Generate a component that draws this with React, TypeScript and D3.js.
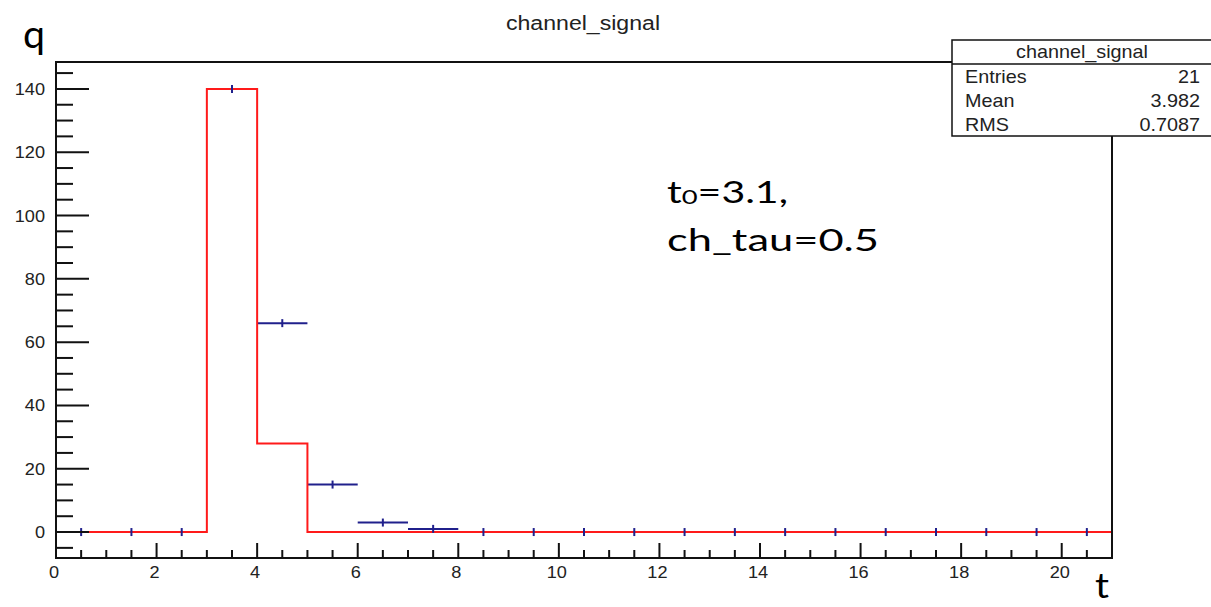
import React from "react";
import * as d3 from "d3";

// bin lower edges (bin width 1)
const binLow = [0, 1, 2, 3, 4, 5, 6, 7, 8, 9, 10, 11, 12, 13, 14, 15, 16, 17, 18, 19, 20];
// red step histogram
const redCounts = [0, 0, 0, 140, 28, 0, 0, 0, 0, 0, 0, 0, 0, 0, 0, 0, 0, 0, 0, 0, 0];
// blue points with horizontal bin-width bars
const blueCounts = [0, 0, 0, 140, 66, 15, 3, 1, 0, 0, 0, 0, 0, 0, 0, 0, 0, 0, 0, 0, 0];

const xTickLabels = [0, 2, 4, 6, 8, 10, 12, 14, 16, 18, 20];
const yTickLabels = [0, 20, 40, 60, 80, 100, 120, 140];

const statLabels = ["Entries", "Mean", "RMS"];
const statValues = ["21", "3.982", "0.7087"];

const W = 1211;
const H = 607;
const frame = { left: 56, right: 1112, top: 62, bottom: 558 };
const ROOT_FONT = "'Liberation Sans', Arial, sans-serif";
const NOTE_FONT = "Lato, 'Open Sans', sans-serif";
const BLUE = "#20208c";
const RED = "#ff1a1a";

function StretchText({ x, y, size, anchor = "start", children }: any) {
  return (
    <text
      transform={`translate(${x},${y}) scale(1.1,1)`}
      fontFamily={ROOT_FONT}
      fontSize={size}
      textAnchor={anchor}
      fill="#222"
    >
      {children}
    </text>
  );
}

export default function App() {
  const x = d3.scaleLinear().domain([0, 21]).range([frame.left, frame.right]);
  const y = d3.scaleLinear().domain([-8.2, 148.5]).range([frame.bottom, frame.top]);

  const stepPts: [number, number][] = binLow.map((b, i) => [b, redCounts[i]]);
  stepPts.push([21, 0]);
  const stepLine = d3
    .line<[number, number]>()
    .x((d) => x(d[0]))
    .y((d) => y(d[1]))
    .curve(d3.curveStepAfter);

  const xMinor = d3.range(0, 21.01, 0.5).filter((v) => v % 2 !== 0);
  const yMinor = d3.range(-5, 146, 5).filter((v) => v % 20 !== 0);

  const stats = { left: 952, right: 1212, top: 40, sep: 64, bottom: 136 };
  const rowH = (stats.bottom - stats.sep) / statLabels.length;

  return (
    <svg
      width={W}
      height={H}
      style={{ position: "absolute", left: 0, top: 0, background: "#fff" }}
    >
      <rect width={W} height={H} fill="#fff" />

      {/* title */}
      <StretchText x={583} y={30} size={21} anchor="middle">
        channel_signal
      </StretchText>

      {/* blue horizontal bars (under red) */}
      <g stroke={BLUE} strokeWidth={2}>
        {binLow.map((b, i) => (
          <line key={i} x1={x(b)} x2={x(b + 1)} y1={y(blueCounts[i])} y2={y(blueCounts[i])} />
        ))}
      </g>

      {/* red histogram */}
      <path d={stepLine(stepPts) || ""} fill="none" stroke={RED} strokeWidth={2} />

      {/* blue vertical markers */}
      <g stroke={BLUE} strokeWidth={2}>
        {binLow.map((b, i) => (
          <line
            key={i}
            x1={x(b + 0.5)}
            x2={x(b + 0.5)}
            y1={y(blueCounts[i]) - 4}
            y2={y(blueCounts[i]) + 4}
          />
        ))}
      </g>

      {/* frame */}
      <rect
        x={frame.left}
        y={frame.top}
        width={frame.right - frame.left}
        height={frame.bottom - frame.top}
        fill="none"
        stroke="#111"
        strokeWidth={2}
      />

      {/* ticks, drawn inward like ROOT */}
      <g stroke="#111" strokeWidth={2}>
        {yTickLabels.map((v) => (
          <line key={"ym" + v} x1={frame.left} x2={frame.left + 33} y1={y(v)} y2={y(v)} />
        ))}
        {yMinor.map((v) => (
          <line key={"yn" + v} x1={frame.left} x2={frame.left + 17} y1={y(v)} y2={y(v)} />
        ))}
        {xTickLabels.map((v) => (
          <line key={"xm" + v} x1={x(v)} x2={x(v)} y1={frame.bottom} y2={frame.bottom - 15} />
        ))}
        {xMinor.map((v) => (
          <line key={"xn" + v} x1={x(v)} x2={x(v)} y1={frame.bottom} y2={frame.bottom - 8} />
        ))}
      </g>

      {yTickLabels.map((v) => (
        <StretchText key={"yl" + v} x={45} y={y(v) + 6} size={16.5} anchor="end">
          {v}
        </StretchText>
      ))}
      {xTickLabels.map((v) => (
        <StretchText key={"xl" + v} x={x(v) - 2} y={578} size={16.5} anchor="middle">
          {v}
        </StretchText>
      ))}

      {/* stats box */}
      <rect
        x={stats.left}
        y={stats.top}
        width={stats.right - stats.left}
        height={stats.bottom - stats.top}
        fill="#fff"
        stroke="#111"
        strokeWidth={1.5}
      />
      <line x1={stats.left} x2={stats.right} y1={stats.sep} y2={stats.sep} stroke="#111" strokeWidth={1.5} />
      <StretchText x={(stats.left + stats.right) / 2} y={58} size={18} anchor="middle">
        channel_signal
      </StretchText>
      {statLabels.map((l, i) => (
        <g key={l}>
          <StretchText x={965} y={stats.sep + rowH * (i + 0.5) + 6.5} size={18}>
            {l}
          </StretchText>
          <StretchText x={1200} y={stats.sep + rowH * (i + 0.5) + 6.5} size={18} anchor="end">
            {statValues[i]}
          </StretchText>
        </g>
      ))}

      {/* annotations */}
      <text x={667} y={203} fontFamily={NOTE_FONT} fontSize={30} textLength={121} lengthAdjust="spacingAndGlyphs" fill="#000">
        t<tspan fontSize={20} dy={1}>0</tspan>
        <tspan dy={-1}>=3.1,</tspan>
      </text>
      <text x={667} y={251} fontFamily={NOTE_FONT} fontSize={30} textLength={212} lengthAdjust="spacingAndGlyphs" fill="#000">
        ch_tau=0.5
      </text>
      <text x={23} y={48} fontFamily={NOTE_FONT} fontSize={38} textLength={22} lengthAdjust="spacingAndGlyphs" fill="#000">
        q
      </text>
      <text x={1095} y={598} fontFamily={NOTE_FONT} fontSize={34} textLength={14} lengthAdjust="spacingAndGlyphs" fill="#000">
        t
      </text>
    </svg>
  );
}
